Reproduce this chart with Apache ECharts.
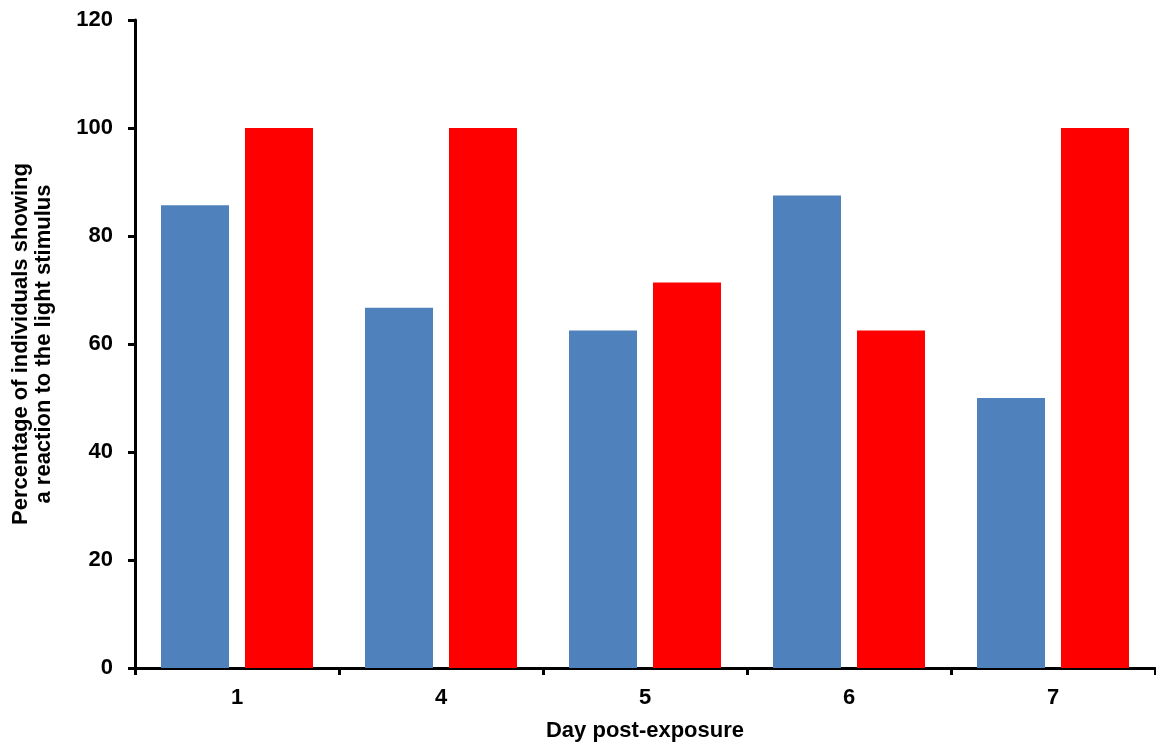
<!DOCTYPE html>
<html><head><meta charset="utf-8">
<script src="https://cdn.jsdelivr.net/npm/echarts@6/dist/echarts.min.js"></script>
<style>html,body{margin:0;padding:0;background:#fff}#c{width:1156px;height:749px}</style>
</head><body><div id="c"></div>
<script>
const categories = ['1', '4', '5', '6', '7'];
const blueValues = [85.7, 66.7, 62.5, 87.5, 50.0];
const redValues = [100, 100, 71.4, 62.5, 100];
const yTicks = [0, 20, 40, 60, 80, 100, 120];

const chart = echarts.init(document.getElementById('c'), null, {renderer: 'canvas'});
const font = 'Liberation Sans, Arial, sans-serif';
chart.setOption({
  animation: false,
  grid: {left: 135, top: 20, right: 1, bottom: 81, containLabel: false},
  xAxis: {
    type: 'category', data: categories,
    name: 'Day post-exposure', nameLocation: 'middle', nameGap: 52,
    nameTextStyle: {fontFamily: font, fontWeight: 'bold', fontSize: 22, color: '#000'},
    axisLine: {lineStyle: {color: '#000', width: 3}},
    axisTick: {show: true, inside: false, length: 7, lineStyle: {color: '#000', width: 3}},
    axisLabel: {fontFamily: font, fontWeight: 'bold', fontSize: 22, color: '#000', margin: 19},
    splitLine: {show: false}
  },
  yAxis: {
    type: 'value', min: yTicks[0], max: yTicks[yTicks.length - 1], interval: 20,
    name: 'Percentage of individuals showing\na reaction to the light stimulus',
    nameLocation: 'middle', nameGap: 80, nameRotate: 90,
    nameTextStyle: {fontFamily: font, fontWeight: 'bold', fontSize: 22, color: '#000', lineHeight: 23, align: 'center'},
    axisLine: {show: true, lineStyle: {color: '#000', width: 3}},
    axisTick: {show: true, inside: false, length: 7, lineStyle: {color: '#000', width: 3}},
    axisLabel: {fontFamily: font, fontWeight: 'bold', fontSize: 22, color: '#000', margin: 22},
    splitLine: {show: false}
  },
  series: [
    {type: 'bar', data: blueValues, itemStyle: {color: '#4F81BD'}, barGap: '23.5%', barCategoryGap: '25.5%'},
    {type: 'bar', data: redValues, itemStyle: {color: '#FF0000'}, barGap: '23.5%', barCategoryGap: '25.5%'}
  ]
});
</script></body></html>
